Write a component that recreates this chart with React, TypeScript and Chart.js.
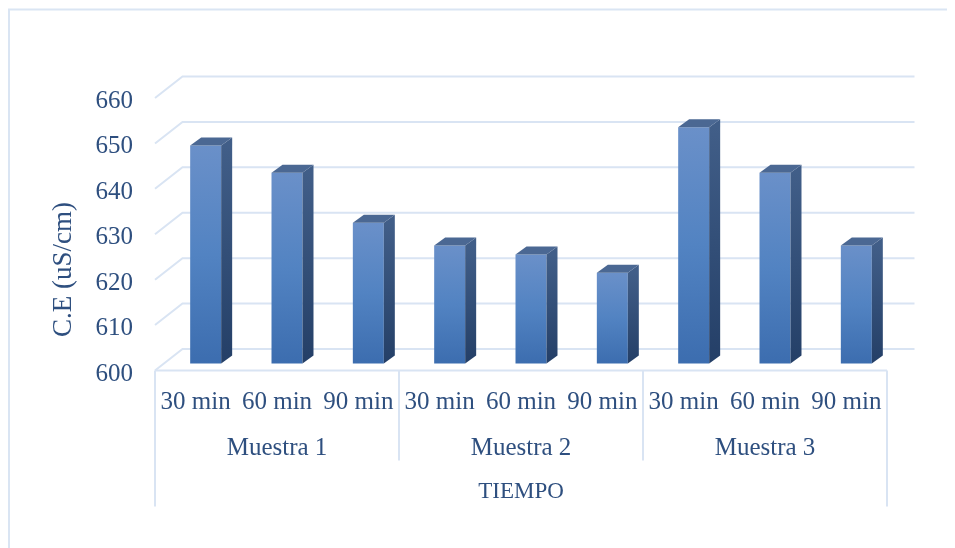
import { useEffect, useRef } from "react";
import { Chart, registerables } from "chart.js";

Chart.register(...registerables);

// Conductividad eléctrica por muestra y tiempo
const timeLabels = ["30 min", "60 min", "90 min", "30 min", "60 min", "90 min", "30 min", "60 min", "90 min"];
const sampleLabels = ["Muestra 1", "Muestra 2", "Muestra 3"];
const conductivity = [648, 642, 631, 626, 624, 620, 652, 642, 626];
const yMin = 600;
const yMax = 660;
const yStep = 10;
const yTitle = "C.E (uS/cm)";
const xTitle = "TIEMPO";

const TEXT = "#2E4F7F";
const GRID = "#D9E4F3";
const FONT = "'Liberation Serif', 'Times New Roman', serif";

// pseudo-3D geometry: back wall depth, bar plane offset, bar depth
const WALL_DX = 27.5;
const WALL_DY = -21.5;
const BAR_SHIFT_X = 10;
const BAR_SHIFT_Y = -7;
const BAR_DX = 11;
const BAR_DY = -8;
const INNER_SEP = 90;
const OUTER_SEP = 136;

const CANVAS_W = 947;
const CANVAS_H = 540;

const frame3d = {
  id: "frame3d",
  beforeDraw(chart: any) {
    const { ctx, chartArea } = chart;
    const y = chart.scales.y;
    const { left, right } = chartArea;
    ctx.save();
    // outer chart border
    ctx.strokeStyle = "#DAE5F3";
    ctx.lineWidth = 2;
    ctx.strokeRect(1, 1.5, chart.width + 20, chart.height + 20);

    ctx.strokeStyle = GRID;
    ctx.lineWidth = 2;
    for (let v = yMin; v <= yMax; v += yStep) {
      const yf = y.getPixelForValue(v);
      ctx.beginPath();
      ctx.moveTo(left, yf);
      ctx.lineTo(left + WALL_DX, yf + WALL_DY);
      ctx.lineTo(right + WALL_DX, yf + WALL_DY);
      ctx.stroke();
    }
    // floor front edge
    const y0 = y.getPixelForValue(yMin);
    ctx.beginPath();
    ctx.moveTo(left, y0);
    ctx.lineTo(right, y0);
    ctx.stroke();
    // group separators below the axis
    const w = (right - left) / timeLabels.length;
    [0, 3, 6, 9].forEach((i) => {
      const x = left + i * w;
      const len = i === 0 || i === 9 ? OUTER_SEP : INNER_SEP;
      ctx.beginPath();
      ctx.moveTo(x, y0);
      ctx.lineTo(x, y0 + len);
      ctx.stroke();
    });

    // vertical axis title
    ctx.fillStyle = TEXT;
    ctx.font = `27px ${FONT}`;
    ctx.textAlign = "center";
    ctx.textBaseline = "alphabetic";
    ctx.translate(63, 261.5);
    ctx.rotate(-Math.PI / 2);
    ctx.fillText(yTitle, 0, 0);
    ctx.restore();
  },
  beforeDatasetsDraw(chart: any) {
    chart.ctx.save();
    chart.ctx.translate(BAR_SHIFT_X, BAR_SHIFT_Y);
  },
  afterDatasetsDraw(chart: any) {
    const { ctx } = chart;
    const base = chart.scales.y.getPixelForValue(yMin);
    const meta = chart.getDatasetMeta(0);
    meta.data.forEach((bar: any) => {
      const { x, y, width } = bar.getProps(["x", "y", "width"], true);
      const l = x - width / 2;
      const r = x + width / 2;
      // side face
      const g = ctx.createLinearGradient(0, y, 0, base);
      g.addColorStop(0, "#415E88");
      g.addColorStop(1, "#243F67");
      ctx.fillStyle = g;
      ctx.beginPath();
      ctx.moveTo(r, y);
      ctx.lineTo(r + BAR_DX, y + BAR_DY);
      ctx.lineTo(r + BAR_DX, base + BAR_DY);
      ctx.lineTo(r, base);
      ctx.closePath();
      ctx.fill();
      // top face
      ctx.fillStyle = "#4B6893";
      ctx.beginPath();
      ctx.moveTo(l, y);
      ctx.lineTo(l + BAR_DX, y + BAR_DY);
      ctx.lineTo(r + BAR_DX, y + BAR_DY);
      ctx.lineTo(r, y);
      ctx.closePath();
      ctx.fill();
    });
    ctx.restore();
  },
};

export default function App() {
  const canvasRef = useRef<HTMLCanvasElement | null>(null);

  useEffect(() => {
    document.documentElement.style.overflow = "hidden";
    const canvas = canvasRef.current;
    if (!canvas) return;
    const chart = new Chart(canvas, {
      type: "bar",
      data: {
        labels: timeLabels,
        datasets: [
          {
            label: yTitle,
            data: conductivity,
            backgroundColor: (c: any) => {
              const ch = c.chart;
              const ys = ch.scales && ch.scales.y;
              if (!ys || typeof c.raw !== "number") return "#4F81BD";
              const top = ys.getPixelForValue(c.raw);
              const bottom = ys.getPixelForValue(yMin);
              if (!Number.isFinite(top) || !Number.isFinite(bottom) || top === bottom) return "#4F81BD";
              const g = ch.ctx.createLinearGradient(0, top, 0, bottom);
              g.addColorStop(0, "#6A90C9");
              g.addColorStop(0.5, "#5283C2");
              g.addColorStop(1, "#3C6DAF");
              return g;
            },
            borderWidth: 0,
            barPercentage: 0.381,
            categoryPercentage: 1,
          },
        ],
      },
      options: {
        responsive: false,
        animation: false,
        devicePixelRatio: 1,
        layout: { padding: { left: 0, right: 68, top: 90, bottom: 42 } },
        plugins: { legend: { display: false }, tooltip: { enabled: false } },
        scales: {
          y: {
            min: yMin,
            max: yMax,
            grid: { display: false, drawTicks: false },
            border: { display: false },
            ticks: {
              stepSize: yStep,
              padding: 22,
              labelOffset: 3.5,
              color: TEXT,
              font: { family: FONT, size: 25 },
            },
            afterFit: (s: any) => {
              s.width = 147;
            },
          },
          x: {
            grid: { display: false, drawTicks: false },
            border: { display: false },
            ticks: {
              padding: 16.5,
              color: TEXT,
              autoSkip: false,
              maxRotation: 0,
              font: { family: FONT, size: 25 },
            },
            afterFit: (s: any) => {
              s.height = 50;
            },
          },
          x2: {
            type: "category",
            position: "bottom",
            labels: sampleLabels,
            offset: true,
            grid: { display: false, drawTicks: false },
            border: { display: false },
            ticks: {
              padding: 12.5,
              color: TEXT,
              autoSkip: false,
              maxRotation: 0,
              font: { family: FONT, size: 25 },
            },
            title: {
              display: true,
              text: xTitle,
              color: TEXT,
              padding: { top: 0, bottom: 0 },
              font: { family: FONT, size: 23 },
            },
            afterFit: (s: any) => {
              s.height = 85.5;
            },
          },
        },
      } as any,
      plugins: [frame3d],
    });
    return () => chart.destroy();
  }, []);

  return (
    <div style={{ width: CANVAS_W, height: CANVAS_H }}>
      <canvas ref={canvasRef} width={CANVAS_W} height={CANVAS_H} />
    </div>
  );
}
